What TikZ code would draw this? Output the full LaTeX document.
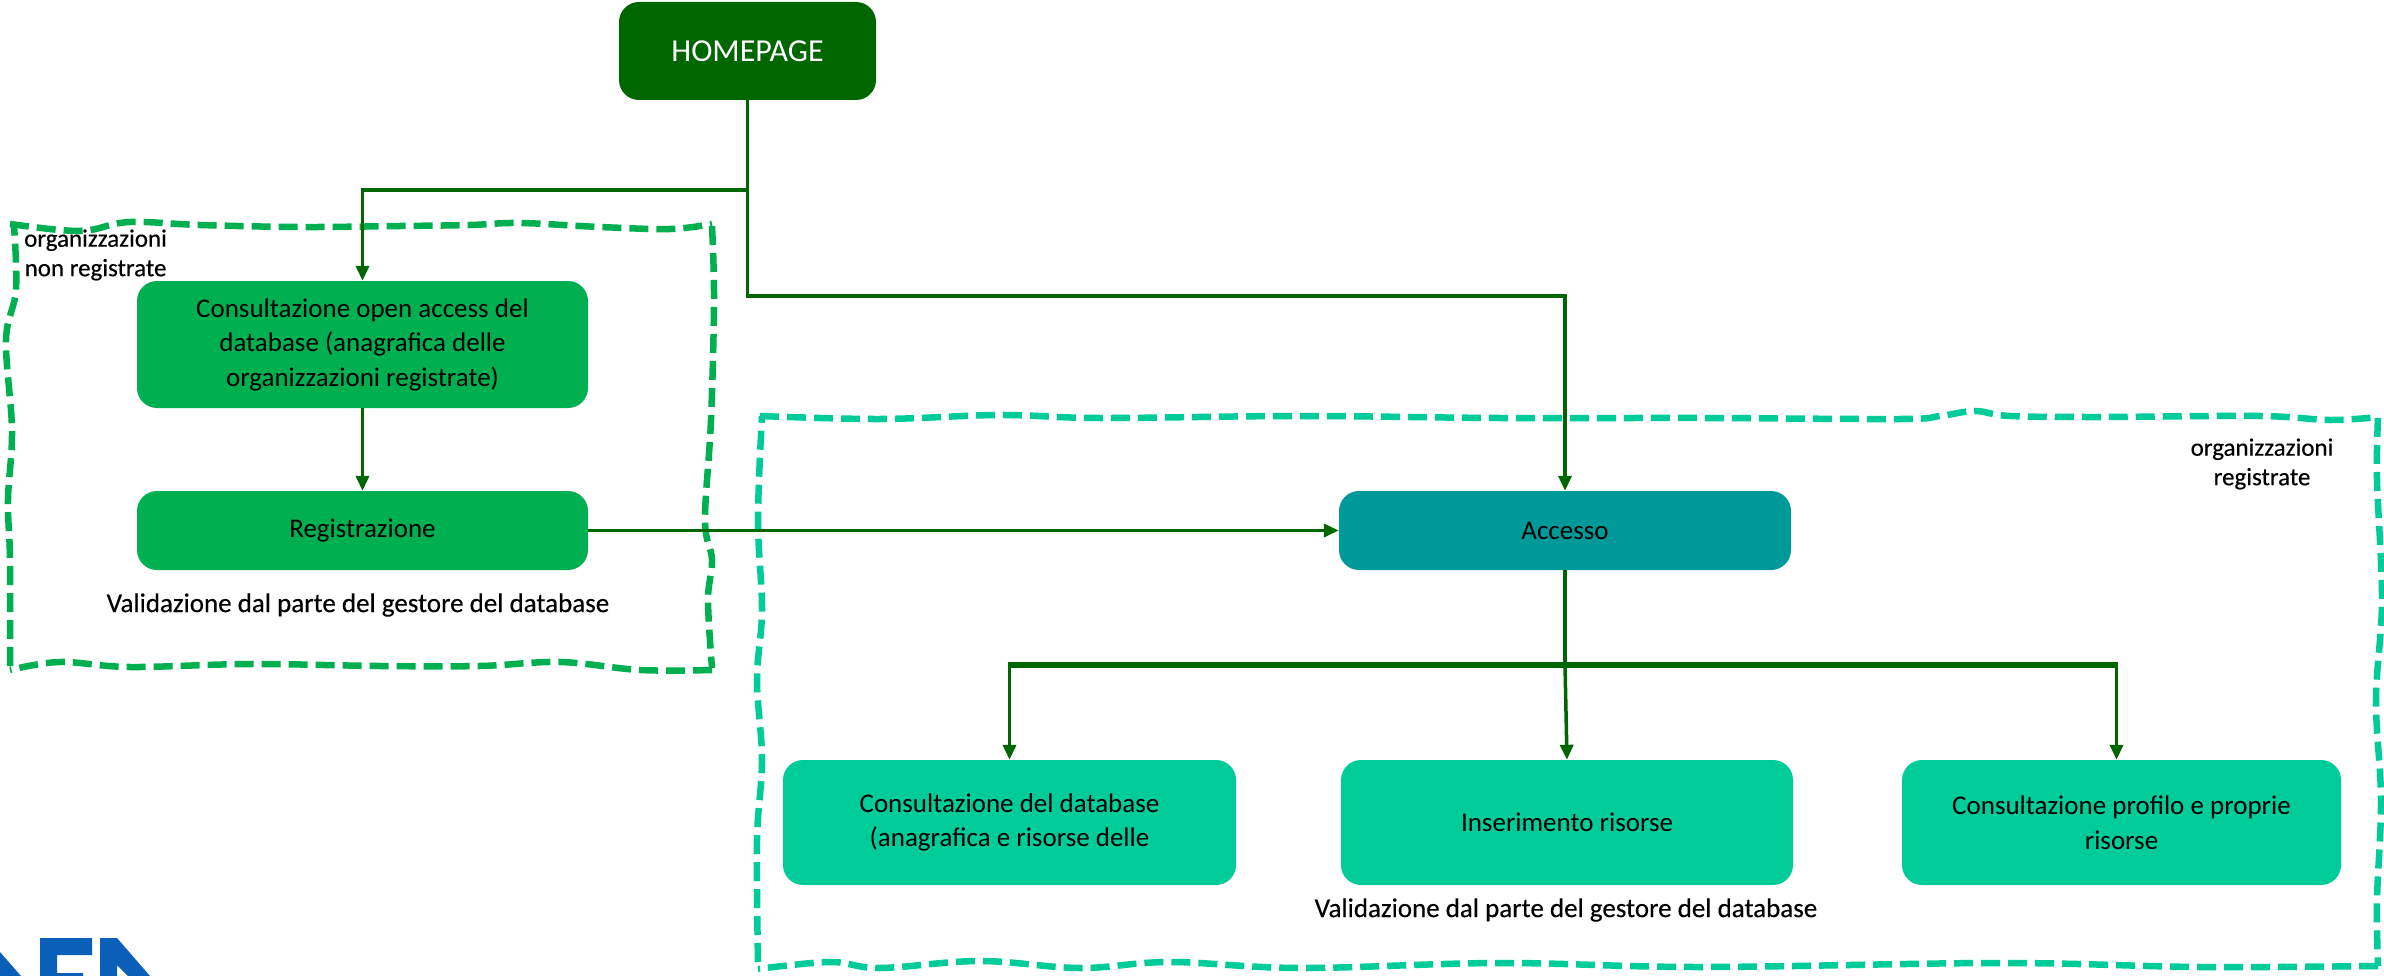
\documentclass[tikz,border=0pt]{standalone}
\usepackage{fontspec}
\setmainfont{Carlito}
\newfontfamily\heavier[FakeBold=0.35]{Carlito}
\usetikzlibrary{arrows.meta}
\definecolor{hgreen}{HTML}{006600}
\definecolor{lgreen}{HTML}{00B050}
\definecolor{mint}{HTML}{00CC99}
\definecolor{tealb}{HTML}{009999}
\definecolor{logob}{HTML}{0A5FB8}
\tikzset{
  x=1pt,y=-1pt,
  box/.style={inner sep=0pt,align=center,text=black,font=\fontsize{27}{34.5}\selectfont},
  conn/.style={hgreen,line width=3.5pt,-{Triangle[length=15pt,width=13pt]}},
  line/.style={hgreen,line width=3.5pt},
  note/.style={font=\heavier\fontsize{27}{34}\selectfont,align=center,inner sep=0pt,text=black},
  small/.style={font=\heavier\fontsize{25}{29.5}\selectfont,align=center,inner sep=0pt,text=black},
  fence/.style={line width=6.5pt,dash pattern=on 19pt off 8pt},
}
\newcommand{\boxat}[7]{\fill[#7,rounded corners=20pt] (#2,#3) rectangle (#4,#5);
  \node[box,minimum width=#4pt-#2pt,minimum height=#5pt-#3pt] (#1) at ({(#2+#4)/2},{(#3+#5)/2}) {#6};}
\begin{document}
\begin{tikzpicture}
\useasboundingbox (0,0) rectangle (2384,976);
% fences
\draw[fence,lgreen] plot[smooth,tension=0.6] coordinates {(10,224)(60,230)(90,230)(130,222)(200,225)(300,227)(400,226)(470,225)(520,223)(600,227)(670,229)(712,224)};
\draw[fence,lgreen] plot[smooth,tension=0.6] coordinates {(712,226)(714,300)(711,420)(705,520)(712,560)(708,600)(712,668)};
\draw[fence,lgreen] plot[smooth,tension=0.6] coordinates {(712,670)(640,670)(560,662)(480,666)(380,666)(250,664)(130,667)(60,662)(10,670)};
\draw[fence,lgreen] plot[smooth,tension=0.6] coordinates {(10,666)(10,560)(8,500)(12,430)(6,340)(16,290)(14,226)};
\draw[fence,mint] plot[smooth,tension=0.6] coordinates {(760,416)(880,419)(1000,415)(1100,418)(1300,416)(1500,418)(1700,418)(1900,419)(1940,416)(1975,411)(2010,416)(2100,417)(2260,416)(2330,420)(2378,417)};
\draw[fence,mint] plot[smooth,tension=0.6] coordinates {(2378,418)(2377,480)(2382,600)(2376,700)(2381,800)(2377,900)(2378,966)};
\draw[fence,mint] plot[smooth,tension=0.6] coordinates {(2378,966)(2200,967)(2000,963)(1700,967)(1500,963)(1300,968)(1170,962)(1080,968)(980,961)(880,968)(830,962)(758,969)};
\draw[fence,mint] plot[smooth,tension=0.6] coordinates {(758,962)(757,840)(762,760)(757,680)(762,610)(758,520)(762,416)};
% boxes
\boxat{home}{619}{2}{876}{100}{\textcolor{white}{\fontsize{32}{36}\selectfont HOMEPAGE}}{hgreen}
\boxat{cons}{137}{281}{588}{408}{Consultazione open access del\\database (anagrafica delle\\organizzazioni registrate)}{lgreen}
\boxat{regi}{137}{491}{588}{570}{Registrazione}{lgreen}
\boxat{acce}{1339}{491}{1791}{570}{Accesso}{tealb}
\boxat{cdb}{783}{760}{1236}{885}{Consultazione del database\\(anagrafica e risorse delle}{mint}
\boxat{ins}{1341}{760}{1793}{885}{Inserimento risorse}{mint}
\boxat{prof}{1902}{760}{2341}{885}{Consultazione profilo e proprie\\risorse}{mint}
% free coordinates
\coordinate (j1) at (home.south |- 0,190);
\coordinate (j2) at (home.south |- 0,296);
\coordinate (j3) at (acce.south |- 0,665);
\coordinate (ptop) at ([xshift=-5pt]prof.north);
% connectors
\draw[line] (home.south) -- (j1);
\draw[conn] (j1) -| (cons.north);
\draw[conn] (j1) -- (j2) -| (acce.north);
\draw[conn] (cons.south) -- (regi.north);
\draw[conn] (regi.east) -- (acce.west);
\draw[line] (acce.south) -- (j3);
\draw[hgreen,line width=5.5pt] ([xshift=-1.75pt]cdb.north |- j3) -- ([xshift=1.75pt]ptop |- j3);
\draw[conn] (cdb.north |- j3) -- (cdb.north);
\draw[conn] (j3) -- (ins.north);
\draw[conn] (ptop |- j3) -- (ptop);
% labels
\node[note] (v1) at (358,605) {Validazione dal parte del gestore del database};
\node[note] (v2) at (1566,910) {Validazione dal parte del gestore del database};
\node[small] (l1) at (24,255) [anchor=west] {organizzazioni\\non registrate};
\node[small,align=center] (l2) at (2262,464) {organizzazioni\\registrate};
% logo remnants
\fill[logob] (40,938) -- (92,938) -- (92,955) -- (57,955) -- (57,973) -- (83,973) -- (83,976) -- (40,976) -- cycle;
\fill[logob] (100,938) -- (117,938) -- (150,976) -- (128,976) -- (117,965) -- (117,976) -- (100,976) -- cycle;
\fill[logob] (0,952) -- (21,976) -- (0,976) -- cycle;
\fill[tealb] (2068,0) arc[start angle=180,end angle=360,x radius=6,y radius=2] -- cycle;
\end{tikzpicture}
\end{document}
